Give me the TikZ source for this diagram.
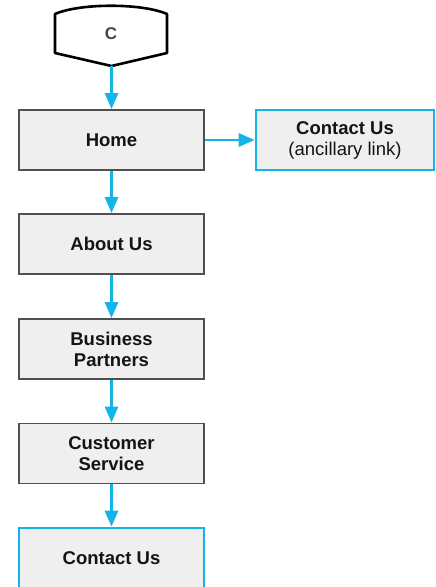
\documentclass[tikz,border=0pt]{standalone}
\usepackage{fontspec}
\setmainfont{Liberation Sans}
\usetikzlibrary{arrows.meta}
\definecolor{linkblue}{RGB}{20,180,235}
\definecolor{boxfill}{RGB}{239,239,239}
\definecolor{boxedge}{RGB}{80,80,80}
\tikzset{
  page/.style={x=1pt,y=-1pt},
  pagebox/.style={draw=boxedge,line width=1.8pt,fill=boxfill,minimum width=185pt,minimum height=60pt,
    inner sep=0pt,align=center,font=\fontsize{18.5}{21}\selectfont\bfseries,text=black!92},
  linkbox/.style={pagebox,draw=linkblue,line width=2.6pt},
  flow/.style={draw=linkblue,line width=2.8pt,-{Triangle[length=16pt,width=13pt]}}
}
\begin{document}
\begin{tikzpicture}[page]
\useasboundingbox (0,0) rectangle (436,587);
% off-page connector shape
\draw[line width=2.6pt,line join=round,fill=white]
  (55,14) .. controls (80,3) and (142,3) .. (167,14) -- (167,53) -- (111.5,66) -- (55,53) -- cycle;
\coordinate (cbot) at (111.5,66);
\node[font=\fontsize{17}{20}\selectfont\bfseries,text=black!72] (c) at (111,34) {C};
% page boxes
\node[pagebox] (home) at (111.5,140) {Home};
\node[linkbox,minimum width=178pt,minimum height=60pt] (ancillary) at (345,140)
  {Contact Us\\{\mdseries (ancillary link)}};
\node[pagebox] (about) at (111.5,244) {About Us};
\node[pagebox] (partners) at (111.5,349) {Business\\Partners};
\node[pagebox] (service) at (111.5,453.5) {Customer\\Service};
\node[linkbox,minimum height=60pt] (contact) at (111.5,558) {Contact Us};
% connectors
\draw[flow] (cbot) -- (home.north);
\draw[flow] (home.east) -- (ancillary.west);
\draw[flow] (home.south) -- (about.north);
\draw[flow] (about.south) -- (partners.north);
\draw[flow] (partners.south) -- (service.north);
\draw[flow] (service.south) -- (contact.north);
\end{tikzpicture}
\end{document}
